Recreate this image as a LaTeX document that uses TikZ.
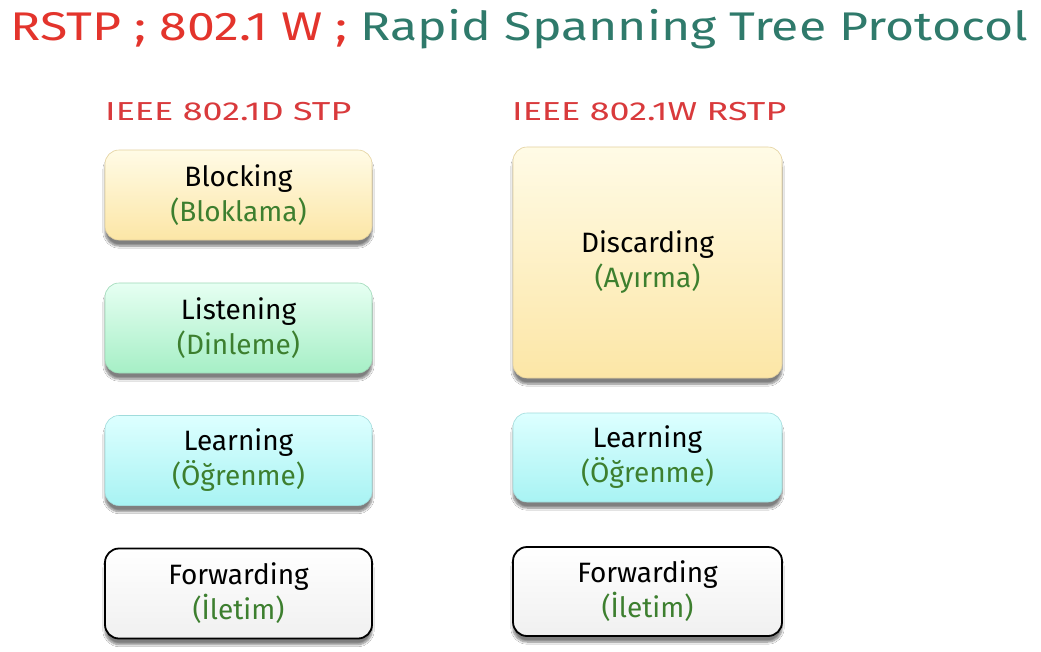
\documentclass[tikz,border=0pt]{standalone}
\usepackage{fontspec}
\setmainfont{Fira Sans}
\usetikzlibrary{shadows.blur}
\definecolor{tred}{HTML}{E3342C}
\definecolor{tteal}{HTML}{2F7A6B}
\definecolor{hred}{HTML}{D93A3C}
\definecolor{tgreen}{HTML}{3D7F2F}
\definecolor{ytop}{HTML}{FFFBE6}
\definecolor{ybot}{HTML}{FCE6A6}
\definecolor{gtop}{HTML}{E6FFF2}
\definecolor{gbot}{HTML}{A6EFC6}
\definecolor{ctop}{HTML}{DDFFFF}
\definecolor{cbot}{HTML}{A8F3F3}
\definecolor{wtop}{HTML}{FFFFFF}
\definecolor{wbot}{HTML}{F0F0F0}
\tikzset{
  statebox/.style={rounded corners=14pt, align=center, inner sep=0pt,
    font=\fontsize{28}{35}\selectfont,
    blur shadow={shadow xshift=0pt, shadow yshift=-6pt, shadow blur steps=8, shadow opacity=50}},
  yellowbox/.style={statebox, draw=ybot!80!gray, line width=0.6pt, top color=ytop, bottom color=ybot},
  greenbox/.style={statebox, draw=gbot!80!gray, line width=0.6pt, top color=gtop, bottom color=gbot},
  cyanbox/.style={statebox, draw=cbot!80!gray, line width=0.6pt, top color=ctop, bottom color=cbot},
  whitebox/.style={statebox, draw=black, line width=1.8pt, top color=wtop, bottom color=wbot},
  leftw/.style={minimum width=267pt, minimum height=90pt},
  rightw/.style={minimum width=269pt, minimum height=89pt},
  header/.style={anchor=base west, inner sep=0pt, text=hred, font=\fontsize{26}{30}\selectfont},
}
\newcommand{\tr}[1]{\textcolor{tgreen}{#1}}
\begin{document}
\begin{tikzpicture}[x=1pt,y=-1pt]
\useasboundingbox[fill=white] (0,0) rectangle (1041,651);
\node[anchor=base west, inner sep=0pt, font=\fontsize{40}{44}\selectfont] (title) at (10,40)
  {\scalebox{1.25}[1]{\textcolor{tred}{RSTP ; 802.1 W ;} \textcolor{tteal}{Rapid Spanning Tree Protocol}}};
\node[header] (hleft) at (105,120) {\scalebox{1.38}[1]{IEEE 802.1D STP}};
\node[header] (hright) at (512,120) {\scalebox{1.38}[1]{IEEE 802.1W RSTP}};
% left column
\node[yellowbox, leftw] (block) at (238.5,195) {Blocking\\\tr{(Bloklama)}};
\node[greenbox, leftw] (listen) at (238.5,328) {Listening\\\tr{(Dinleme)}};
\node[cyanbox, leftw] (learnL) at (238.5,460.5) {Learning\\\tr{(Öğrenme)}};
\node[whitebox, leftw] (fwdL) at (238.5,593.5) {Forwarding\\\tr{(İletim)}};
% right column
\node[yellowbox, minimum width=269pt, minimum height=231pt] (discard) at (647.5,262.5) {Discarding\\\tr{(Ayırma)}};
\node[cyanbox, rightw] (learnR) at (647.5,457.5) {Learning\\\tr{(Öğrenme)}};
\node[whitebox, rightw] (fwdR) at (647.5,591.5) {Forwarding\\\tr{(İletim)}};
\end{tikzpicture}
\end{document}
